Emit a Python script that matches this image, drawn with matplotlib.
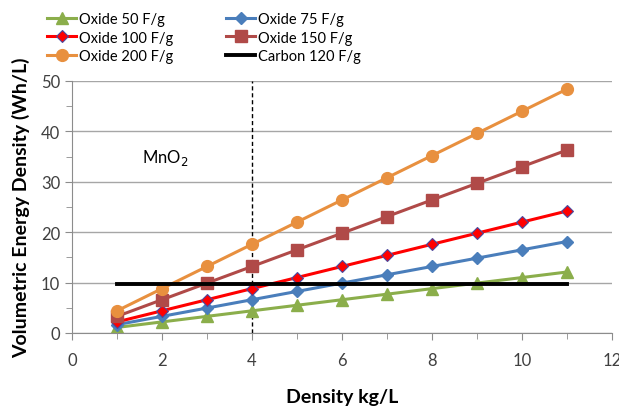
import matplotlib
matplotlib.use("Agg")
import matplotlib.pyplot as plt
from matplotlib.ticker import MultipleLocator

plt.rcParams['font.family'] = ['Lato', 'DejaVu Sans']

density = [1, 2, 3, 4, 5, 6, 7, 8, 9, 10, 11]
oxide50 = [1.1, 2.2, 3.3, 4.4, 5.5, 6.6, 7.7, 8.8, 9.9, 11.0, 12.1]
oxide75 = [1.65, 3.3, 4.95, 6.6, 8.25, 9.9, 11.55, 13.2, 14.85, 16.5, 18.15]
oxide100 = [2.2, 4.4, 6.6, 8.8, 11.0, 13.2, 15.4, 17.6, 19.8, 22.0, 24.2]
oxide150 = [3.3, 6.6, 9.9, 13.2, 16.5, 19.8, 23.1, 26.4, 29.7, 33.0, 36.3]
oxide200 = [4.4, 8.8, 13.2, 17.6, 22.0, 26.4, 30.8, 35.2, 39.6, 44.0, 48.4]
carbon_x = [1, 11]
carbon120 = [9.8, 9.8]
mno2_density = 4

fig = plt.figure(figsize=(6.19, 4.10), dpi=100)
ax = fig.add_axes([0.1163, 0.1854, 0.8724, 0.6146])

h50, = ax.plot(density, oxide50, color='#8BAE4B', lw=2.2, marker='^', ms=8, label='Oxide 50 F/g')
h75, = ax.plot(density, oxide75, color='#4A7EBB', lw=2.2, marker='D', ms=6, label='Oxide 75 F/g')
h100, = ax.plot(density, oxide100, color='#FF0000', lw=2.2, marker='D', ms=6,
                mec='#4A4AA0', mew=0.8, label='Oxide 100 F/g')
h150, = ax.plot(density, oxide150, color='#B04A48', lw=2.2, marker='s', ms=8, label='Oxide 150 F/g')
h200, = ax.plot(density, oxide200, color='#E8903F', lw=2.2, marker='o', ms=8.5, label='Oxide 200 F/g')
hc, = ax.plot(carbon_x, carbon120, color='black', lw=2.8, label='Carbon 120 F/g')

ax.plot([mno2_density, mno2_density], [0, 50], color='black', lw=1, ls=(0, (3, 2)), zorder=1)
ax.text(2.07, 35, 'MnO$_2$', fontsize=12, ha='center', va='center')

ax.set_xlim(0, 12)
ax.set_ylim(0, 50)
ax.xaxis.set_major_locator(MultipleLocator(2))
ax.xaxis.set_minor_locator(MultipleLocator(1))
ax.yaxis.set_major_locator(MultipleLocator(10))
ax.yaxis.set_minor_locator(MultipleLocator(5))
ax.grid(axis='y', which='major', color='#A6A6A6', lw=1)
ax.set_axisbelow(True)
for s in ['top', 'right']:
    ax.spines[s].set_visible(False)
for s in ['left', 'bottom']:
    ax.spines[s].set_color('#8C8C8C')
ax.tick_params(which='both', direction='out', color='#8C8C8C', labelsize=12, labelcolor='#404040')
ax.tick_params(which='major', length=5)
ax.tick_params(which='minor', length=4)
ax.tick_params(axis='x', pad=9)

ax.set_xlabel('Density kg/L', fontsize=14, fontweight='bold', labelpad=14)
ax.set_ylabel('Volumetric Energy Density (Wh/L)', fontsize=14, fontweight='bold', labelpad=8)

fig.legend(handles=[h50, h100, h200, h75, h150, hc], ncol=2, frameon=False,
           loc='upper left', bbox_to_anchor=(0.055, 1.0), fontsize=10.5,
           handlelength=2.0, columnspacing=3.6, labelspacing=0.3, handletextpad=0.2)

fig.savefig('out.png', dpi=100)
